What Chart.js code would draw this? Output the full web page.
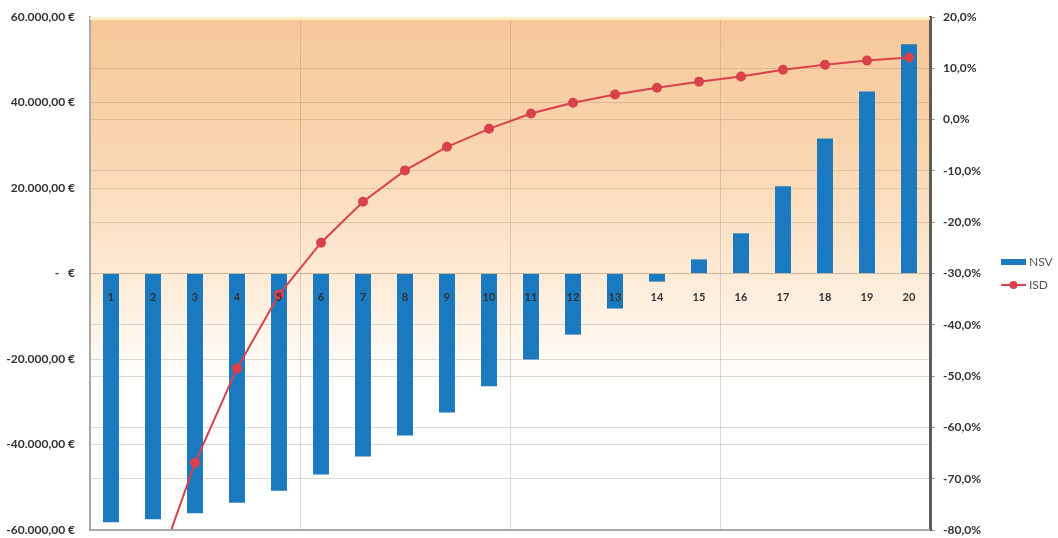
<!DOCTYPE html>
<html>
<head>
<meta charset="utf-8">
<script src="https://cdn.jsdelivr.net/npm/chart.js@4.4.1/dist/chart.umd.min.js"></script>
<style>
  html, body { margin: 0; padding: 0; background: #fff; }
  #wrap { width: 1058px; height: 538px; }
</style>
</head>
<body>
<div id="wrap"><canvas id="nsv-chart" width="1058" height="538"></canvas></div>
<script>
  "use strict";

  var categories = ["1", "2", "3", "4", "5", "6", "7", "8", "9", "10",
                    "11", "12", "13", "14", "15", "16", "17", "18", "19", "20"];
  var nsvValues = [-58200, -57500, -56100, -53600, -50800, -47000, -42800, -37900, -32500, -26400,
                   -20100, -14300, -8200, -1900, 3300, 9400, 20400, 31600, 42600, 53600];
  var isdValues = [-115, -90, -66.9, -48.5, -34.1, -24.0, -16.0, -9.9, -5.3, -1.8,
                   1.2, 3.3, 4.9, 6.2, 7.4, 8.4, 9.7, 10.7, 11.5, 12.1];
  var euroTicks = [-60000, -40000, -20000, 0, 20000, 40000, 60000];
  var percentTicks = [-80, -70, -60, -50, -40, -30, -20, -10, 0, 10, 20];

  var FONT = "Lato, 'Open Sans', sans-serif";
  var GRID = "rgba(160, 130, 110, 0.3)";

  function formatEuro(v) {
    if (v === 0) return "-   €";
    var neg = v < 0;
    var s = Math.abs(v).toFixed(0).replace(/\B(?=(\d{3})+(?!\d))/g, ".");
    return (neg ? "-" : "") + s + ",00 €";
  }

  function formatPercent(v) {
    return v.toFixed(1).replace(".", ",") + "%";
  }

  // peach-to-white plot background plus the frame lines
  var plotFrame = {
    id: "plotFrame",
    beforeDraw: function (chart) {
      var a = chart.chartArea, c = chart.ctx;
      var g = c.createLinearGradient(0, a.top, 0, a.bottom);
      g.addColorStop(0, "#f7c797");
      g.addColorStop(0.25, "#f9d5ae");
      g.addColorStop(0.5, "#fdead4");
      g.addColorStop(0.72, "#ffffff");
      g.addColorStop(1, "#ffffff");
      c.save();
      c.fillStyle = g;
      c.fillRect(a.left, a.top, a.right - a.left, a.bottom - a.top);
      c.restore();
    },
    afterDraw: function (chart) {
      var a = chart.chartArea, c = chart.ctx;
      c.save();
      c.strokeStyle = "#fbeebd";
      c.lineWidth = 3;
      c.beginPath();
      c.moveTo(a.left, a.top + 1.5);
      c.lineTo(a.right, a.top + 1.5);
      c.stroke();
      c.strokeStyle = "#a9a9a9";
      c.lineWidth = 2;
      c.beginPath();
      c.moveTo(a.left, a.bottom);
      c.lineTo(a.right, a.bottom);
      c.stroke();
      c.restore();
    }
  };

  // legend on the right, built from the datasets
  var sideLegend = {
    id: "sideLegend",
    afterDraw: function (chart) {
      var c = chart.ctx;
      var x = 1001, y = 262;
      c.save();
      c.font = "12px " + FONT;
      c.textBaseline = "middle";
      chart.data.datasets.forEach(function (ds, i) {
        var yy = y + i * 23;
        if (ds.type === "bar") {
          c.fillStyle = ds.backgroundColor;
          c.fillRect(x, yy - 3, 25, 6);
        } else {
          c.strokeStyle = ds.borderColor;
          c.lineWidth = 2;
          c.beginPath();
          c.moveTo(x, yy);
          c.lineTo(x + 25, yy);
          c.stroke();
          c.fillStyle = ds.pointBackgroundColor;
          c.beginPath();
          c.arc(x + 12.5, yy, 4, 0, Math.PI * 2);
          c.fill();
        }
        c.fillStyle = "#555";
        c.fillText(ds.label, x + 28, yy);
      });
      c.restore();
    }
  };

  // keep tick label overflow from pushing the plot area inwards
  function noLabelPadding(s) {
    s.paddingTop = 0;
    s.paddingBottom = 0;
  }

  var ctx = document.getElementById("nsv-chart").getContext("2d");
  var chart = new Chart(ctx, {
    data: {
      labels: categories,
      datasets: [
        {
          type: "bar",
          label: "NSV",
          data: nsvValues,
          yAxisID: "y",
          backgroundColor: "#1b79c0",
          categoryPercentage: 1,
          barPercentage: 0.38,
          order: 1
        },
        {
          type: "line",
          label: "ISD",
          data: isdValues,
          yAxisID: "y1",
          borderColor: "#d9424a",
          backgroundColor: "#d9424a",
          pointBackgroundColor: "#d9424a",
          pointBorderColor: "#d9424a",
          pointRadius: 4,
          borderWidth: 2,
          tension: 0,
          order: 0
        }
      ]
    },
    options: {
      responsive: false,
      animation: false,
      layout: { padding: { top: 17, bottom: 8, left: 0, right: 0 } },
      plugins: {
        legend: { display: false },
        tooltip: { enabled: false }
      },
      scales: {
        x: {
          position: { y: 0 },
          offset: true,
          afterFit: function (s) { s.height = 0; },
          border: { display: false },
          grid: {
            offset: true,
            drawTicks: false,
            z: -1,
            color: function (c) {
              return (c.index === 5 || c.index === 10 || c.index === 15) ? GRID : "rgba(0,0,0,0)";
            }
          },
          ticks: {
            padding: 17,
            maxRotation: 0,
            z: 1,
            color: "#333",
            font: { family: FONT, size: 11, weight: "bold" }
          }
        },
        y: {
          position: "left",
          min: -60000,
          max: 60000,
          afterBuildTicks: function (s) {
            s.ticks = euroTicks.map(function (v) { return { value: v }; });
          },
          afterFit: function (s) { s.width = 90; noLabelPadding(s); },
          border: { color: "#a9a9a9", width: 2 },
          grid: { color: GRID, drawTicks: false },
          ticks: {
            padding: 15,
            color: "#333",
            font: { family: FONT, size: 12, weight: "bold" },
            callback: function (v) { return formatEuro(v); }
          }
        },
        y1: {
          position: "right",
          min: -80,
          max: 20,
          afterBuildTicks: function (s) {
            s.ticks = percentTicks.map(function (v) { return { value: v }; });
          },
          afterFit: function (s) { s.width = 128; noLabelPadding(s); },
          border: { color: "#5c5c5c", width: 3 },
          grid: { color: GRID, tickColor: "#9a9a9a", tickLength: 5 },
          ticks: {
            padding: 8,
            color: "#333",
            font: { family: FONT, size: 12, weight: "bold" },
            callback: function (v) { return formatPercent(v); }
          }
        }
      }
    },
    plugins: [plotFrame, sideLegend]
  });
</script>
</body>
</html>
